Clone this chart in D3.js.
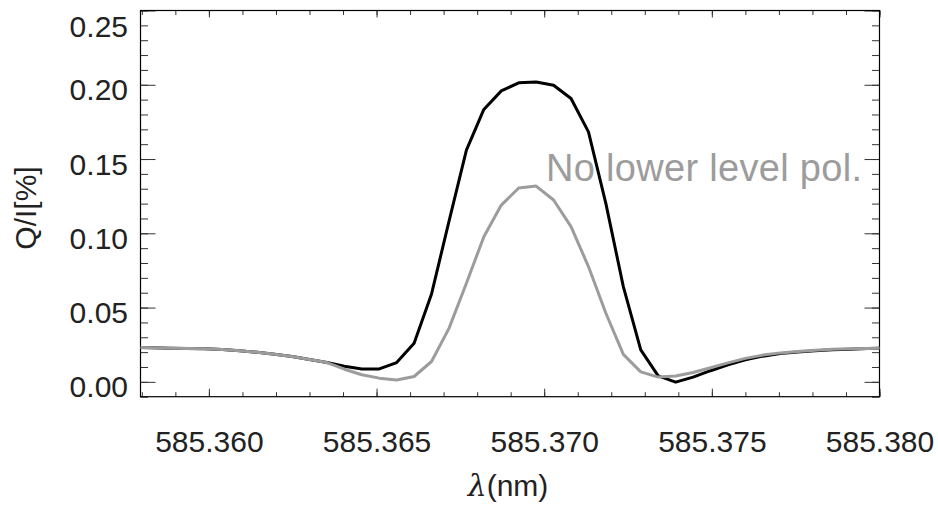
<!DOCTYPE html>
<html>
<head>
<meta charset="utf-8">
<script src="https://cdn.jsdelivr.net/npm/d3@7"></script>
<style>
  body { margin: 0; background: #fff; }
  svg { display: block; font-family: "Liberation Sans", Arial, Helvetica, sans-serif; }
</style>
</head>
<body>
<svg id="chart" width="938" height="508"></svg>
<script>
// wavelength grid (nm)
const lambda = [
  585.35780, 585.35832, 585.35884, 585.35936, 585.35988, 585.36040, 585.36092, 585.36144,
  585.36196, 585.36248, 585.36300, 585.36352, 585.36404, 585.36456, 585.36508, 585.36560,
  585.36612, 585.36664, 585.36716, 585.36768, 585.36820, 585.36872, 585.36924, 585.36976,
  585.37028, 585.37080, 585.37132, 585.37184, 585.37236, 585.37288, 585.37340, 585.37392,
  585.37444, 585.37496, 585.37548, 585.37600, 585.37652, 585.37704, 585.37756, 585.37808,
  585.37860, 585.37912, 585.37964, 585.38016
];

// Q/I [%] full calculation (black)
const qFull = [
  0.0231, 0.0229, 0.0227, 0.0225, 0.0222, 0.0217, 0.0209, 0.0199,
  0.0186, 0.0171, 0.0151, 0.0130, 0.0105, 0.0087, 0.0087, 0.0130,
  0.0260, 0.0592, 0.1080, 0.1560, 0.1834, 0.1959, 0.2013, 0.2019,
  0.1997, 0.1908, 0.1683, 0.1200, 0.0641, 0.0215, 0.0040, -0.0002,
  0.0032, 0.0075, 0.0115, 0.0148, 0.0173, 0.0190, 0.0201, 0.0210,
  0.0216, 0.0220, 0.0224, 0.0227
];

// Q/I [%] without lower level polarization (gray)
const qNoLower = [
  0.0231, 0.0229, 0.0227, 0.0225, 0.0222, 0.0217, 0.0209, 0.0199,
  0.0186, 0.0171, 0.0151, 0.0130, 0.0085, 0.0048, 0.0025, 0.0013,
  0.0036, 0.0137, 0.0360, 0.0664, 0.0977, 0.1190, 0.1305, 0.1318,
  0.1224, 0.1045, 0.0776, 0.0462, 0.0185, 0.0067, 0.0032, 0.0040,
  0.0063, 0.0095, 0.0128, 0.0158, 0.0180, 0.0195, 0.0205, 0.0213,
  0.0219, 0.0222, 0.0225, 0.0227
];

const xTicks = [585.360, 585.365, 585.370, 585.375, 585.380];
const yTicks = [0.00, 0.05, 0.10, 0.15, 0.20, 0.25];
const annotation = "No lower level pol.";

const pLeft = 140.5, pRight = 879.5, pTop = 10.5, pBottom = 396.7;

const svg = d3.select("#chart");

const x = d3.scaleLinear().domain([585.35796, 585.380]).range([pLeft, pRight]);
const y = d3.scaleLinear().domain([-0.01, 0.25]).range([pBottom, pTop]);

// minor tick values
const xMinor = d3.range(585.358, 585.3805, 0.001).filter(v => v >= x.domain()[0]);
const yMinor = d3.range(-0.01, 0.2505, 0.01);

function styleAxis(g) {
  g.select(".domain").remove();
  g.selectAll(".tick line").attr("stroke", "#333").attr("stroke-width", 1);
}

// annotation (under the curves, like the original)
svg.append("text")
  .attr("x", 546).attr("y", 181)
  .attr("font-size", 38)
  .attr("fill", "#9c9c9c")
  .attr("textLength", 316)
  .attr("lengthAdjust", "spacing")
  .text(annotation);

// minor ticks, all four sides
svg.append("g").attr("transform", `translate(${pLeft},0)`)
  .call(d3.axisLeft(y).tickValues(yMinor).tickSize(-7.5).tickFormat(""))
  .call(styleAxis);
svg.append("g").attr("transform", `translate(${pRight},0)`)
  .call(d3.axisRight(y).tickValues(yMinor).tickSize(-7.5).tickFormat(""))
  .call(styleAxis);
svg.append("g").attr("transform", `translate(0,${pBottom})`)
  .call(d3.axisBottom(x).tickValues(xMinor).tickSize(-4.5).tickFormat(""))
  .call(styleAxis);
svg.append("g").attr("transform", `translate(0,${pTop})`)
  .call(d3.axisTop(x).tickValues(xMinor).tickSize(-4.5).tickFormat(""))
  .call(styleAxis);

// major ticks with labels
const yAxis = svg.append("g").attr("transform", `translate(${pLeft},0)`)
  .call(d3.axisLeft(y).tickValues(yTicks).tickSize(-15).tickPadding(12.5).tickFormat(d3.format(".2f")))
  .call(styleAxis);
yAxis.selectAll("text")
  .attr("font-size", 30).attr("fill", "#222")
  .attr("dy", null)
  .attr("y", d => Math.max(y(d) + 15, 36) - y(d));

svg.append("g").attr("transform", `translate(${pRight},0)`)
  .call(d3.axisRight(y).tickValues(yTicks).tickSize(-15).tickFormat(""))
  .call(styleAxis);

const xAxis = svg.append("g").attr("transform", `translate(0,${pBottom})`)
  .call(d3.axisBottom(x).tickValues(xTicks).tickSize(-8).tickFormat(d3.format(".3f")))
  .call(styleAxis);
xAxis.selectAll("text")
  .attr("font-size", 30).attr("fill", "#222")
  .attr("dy", null)
  .attr("y", 55);

svg.append("g").attr("transform", `translate(0,${pTop})`)
  .call(d3.axisTop(x).tickValues(xTicks).tickSize(-7).tickFormat(""))
  .call(styleAxis);

// drop the font-family the axes set so the page font applies
svg.selectAll("g").attr("font-family", null);

// frame
svg.append("rect")
  .attr("x", pLeft).attr("y", pTop)
  .attr("width", pRight - pLeft).attr("height", pBottom - pTop)
  .attr("fill", "none").attr("stroke", "#000").attr("stroke-width", 1.2);

// curves
svg.append("clipPath").attr("id", "plotClip")
  .append("rect").attr("x", pLeft).attr("y", pTop)
  .attr("width", pRight - pLeft).attr("height", pBottom - pTop);

const line = d3.line()
  .x(d => x(d[0]))
  .y(d => y(d[1]));

const plot = svg.append("g").attr("clip-path", "url(#plotClip)");

plot.append("path")
  .datum(d3.zip(lambda, qFull))
  .attr("d", line)
  .attr("fill", "none")
  .attr("stroke", "#000")
  .attr("stroke-width", 3)
  .attr("stroke-linejoin", "round");

plot.append("path")
  .datum(d3.zip(lambda, qNoLower))
  .attr("d", line)
  .attr("fill", "none")
  .attr("stroke", "#9c9c9c")
  .attr("stroke-width", 3)
  .attr("stroke-linejoin", "round");

// axis titles
const xTitle = svg.append("text")
  .attr("x", 508).attr("y", 496)
  .attr("text-anchor", "middle")
  .attr("font-size", 30)
  .attr("fill", "#222");
xTitle.append("tspan").attr("font-style", "italic").attr("font-family", "DejaVu Serif").text("λ");
xTitle.append("tspan").text("(nm)");

svg.append("text")
  .attr("transform", "translate(36,208) rotate(-90)")
  .attr("text-anchor", "middle")
  .attr("font-size", 30)
  .attr("fill", "#222")
  .text("Q/I[%]");
</script>
</body>
</html>
